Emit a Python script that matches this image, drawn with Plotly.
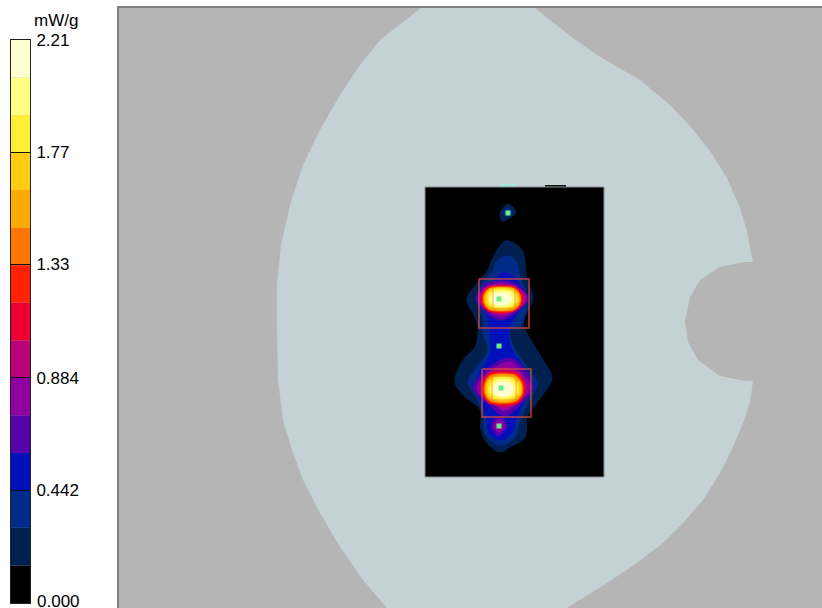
import plotly.graph_objects as go

# colour scale
scale_edges = [0.000, 0.147, 0.295, 0.442, 0.589, 0.737, 0.884, 1.031, 1.179, 1.326, 1.473, 1.621, 1.768, 1.915, 2.063, 2.21]
scale_colors = ["#000000", "#00204F", "#002B88", "#0011BB", "#5500AA", "#9000A0", "#BB0077", "#EE0033",
                "#FF2200", "#FF7700", "#FFAA00", "#FFCC11", "#FFEE33", "#FFFF80", "#FFFFD0"]
scale_ticks = [0.000, 0.442, 0.884, 1.33, 1.77, 2.21]
scale_labels = ["", "0.442", "0.884", "1.33", "1.77", "2.21"]
scale_floor_label = "0.000"

# outlines
phantom = [(421,8),(400,24),(380,40),(360,65),(340,95),(320,130),(303,165),(290,205),(281,245),(277,285),(277,330),(278,380),
           (283,420),(292,450),(303,480),(320,513),(340,547),(363,580),(387,608),(567,608),(580,600),(607,583),(637,563),(663,543),
           (683,523),(703,500),(720,473),(733,447),(743,423),(750,403),(753,381),(745,381),(720,376),(698,360),(688,342),(685,322),
           (690,297),(700,280),(720,267),(745,262),(753,262),(752,258),(747,231),(740,208),(727,178),(710,151),(690,126),(670,105),
           (640,80),(620,68),(597,55),(573,38),(550,20),(535,8)]
board = [(425,187),(604,187),(604,477),(425,477),(425,187)]
tab_light = [(500,184),(516,184),(516,187),(500,187),(500,184)]
tab_dark = [(545,185),(566,185),(566,187),(545,187),(545,185)]

level_1 = [(505,241),(492,260),(488,270),(477,283),(467,300),(475,317),(478,330),(475,347),(463,360),(455,382),(463,395),(480,410),
           (481,430),(487,443),(500,452),(510,447),(525,437),(527,417),(535,405),(552,378),(543,360),(532,342),(525,330),(523,323),
           (533,297),(527,280),(523,252),(517,245),(505,241),None,
           (508,204),(516,212),(510,218),(502,221),(500,213),(508,204)]
level_2 = [(508,256),(498,260),(492,273),(482,283),(478,303),(483,320),(483,333),(488,350),(477,367),(468,382),(475,395),(483,413),
           (485,433),(500,445),(515,437),(520,420),(528,403),(537,383),(527,367),(515,350),(510,330),(520,327),(527,297),(520,277),
           (515,260),(508,256),None,
           (508,208),(512,212),(508,217),(504,213),(508,208)]
level_3 = [(505,272),(495,280),(485,300),(488,320),(490,335),(491,350),(486,362),(478,375),(476,390),(483,405),(487,420),(489,433),
           (500,440),(511,434),(516,420),(522,405),(529,388),(526,372),(517,358),(510,345),(509,330),(514,318),(525,300),(516,280),(505,272)]
level_4 = [(501,281),(518,285),(528,299),(518,311),(501,320),(484,311),(476,299),(484,285),(501,281),None,
           (510,358),(525,370),(533,388),(522,403),(505,416),(488,404),(473,388),(486,370),(510,358),None,
           (499,416),(507,425),(499,436),(491,426),(499,416)]
level_5 = [(501,283),(516,287),(526,295),(526,302),(516,310),(501,317),(487,310),(479,302),(479,295),(487,287),(501,283),None,
           (510,362),(521,372),(530,385),(529,392),(519,401),(505,411),(491,401),(478,392),(478,385),(489,372),(510,362),None,
           (499,420),(504,426),(499,432),(494,426),(499,420)]
level_6 = [(501,285),(516,287),(524,295),(524,303),(516,309),(501,314),(487,309),(481,303),(481,295),(487,287),(501,285),None,
           (505,368),(518,372),(526,384),(526,393),(518,401),(505,408),(489,401),(481,393),(481,384),(489,372),(505,368)]
level_7 = [(501,286),(516,288),(522,295),(522,303),(516,310),(501,313),(487,310),(482,303),(482,295),(487,288),(501,286),None,
           (504,372),(518,374),(524,384),(524,394),(518,403),(504,405),(489,403),(483,394),(483,384),(489,374),(504,372)]
level_8 = [(501,287),(515,288),(521,295),(521,303),(515,310),(501,312),(488,310),(483,303),(483,295),(488,288),(501,287),None,
           (504,373),(517,375),(523,384),(523,394),(517,402),(504,404),(489,402),(484,394),(484,384),(489,375),(504,373)]
level_9 = [(501,287),(515,289),(520,295),(520,303),(515,309),(501,311),(489,309),(484,303),(484,295),(489,289),(501,287),None,
           (504,374),(516,376),(522,384),(522,394),(516,401),(504,403),(490,401),(485,394),(485,384),(490,376),(504,374)]
level_10 = [(501,288),(514,289),(519,295),(519,303),(514,309),(501,310),(489,309),(485,303),(485,295),(489,289),(501,288),None,
            (504,375),(516,377),(521,384),(521,394),(516,400),(504,402),(491,400),(486,394),(486,384),(491,377),(504,375)]
level_11 = [(501,288),(513,290),(518,295),(518,303),(513,307),(501,310),(490,307),(486,303),(486,295),(490,290),(501,288),None,
            (504,376),(514,378),(520,384),(520,394),(514,399),(504,401),(492,399),(487,394),(487,384),(492,378),(504,376)]
level_12 = [(501,289),(512,291),(516,295),(516,303),(512,306),(501,308),(491,306),(488,303),(488,295),(491,291),(501,289),None,
            (503,377),(513,379),(518,385),(518,393),(513,398),(503,400),(493,398),(489,393),(489,385),(493,379),(503,377)]
level_13 = [(501,291),(511,292),(514,296),(514,302),(511,305),(501,307),(493,305),(490,302),(490,296),(493,292),(501,291),None,
            (503,379),(512,381),(516,386),(516,392),(512,396),(503,398),(495,396),(491,392),(491,386),(495,381),(503,379)]
level_14 = [(501,293),(508,294),(511,297),(511,301),(508,304),(501,305),(495,304),(493,301),(493,297),(495,294),(501,293),None,
            (503,382),(509,383),(512,386),(512,392),(509,395),(503,396),(497,395),(494,392),(494,386),(497,383),(503,382)]
levels = [level_1, level_2, level_3, level_4, level_5, level_6, level_7, level_8, level_9, level_10, level_11, level_12, level_13, level_14]

probe_upper_outer = [(479,279),(529,279),(529,328),(479,328),(479,279)]
probe_upper_inner = [(493,286),(515,286),(515,309),(493,309),(493,286)]
probe_lower_outer = [(482,369),(531,369),(531,417),(482,417),(482,369)]
probe_lower_inner = [(492,376),(516,376),(516,400),(492,400),(492,376)]
peak_x = [508, 499, 499, 501, 499]
peak_y = [213, 299, 346, 388, 426]

def xs(p):
    return [q[0] if q else None for q in p]
def ys(p):
    return [q[1] if q else None for q in p]

W, H = 822, 608
fig = go.Figure()

def poly(p, fill, line=None, width=0, shape="linear"):
    fig.add_trace(go.Scatter(x=xs(p), y=ys(p), mode="lines", fill="toself", fillcolor=fill,
                             line=dict(color=line or fill, width=width, shape=shape, smoothing=1),
                             hoverinfo="skip", showlegend=False))

poly(phantom, "#C4D1D5")
poly(tab_light, "#A5E6DE")
poly(tab_dark, "#111111")
poly(board, "#000000", "#8A8F90", 1)
for i, lv in enumerate(levels):
    poly(lv, scale_colors[i + 1], scale_colors[i + 1], 1, "spline")

for r, col, w in [(probe_upper_outer, "rgba(205,70,70,0.9)", 1.5), (probe_lower_outer, "rgba(205,70,70,0.9)", 1.5),
                  (probe_upper_inner, "rgba(205,70,70,0.35)", 1.2), (probe_lower_inner, "rgba(205,70,70,0.35)", 1.2)]:
    fig.add_trace(go.Scatter(x=xs(r), y=ys(r), mode="lines", line=dict(color=col, width=w), hoverinfo="skip", showlegend=False))

fig.add_trace(go.Scatter(x=peak_x, y=peak_y, mode="markers",
                         marker=dict(symbol="square", size=5, color="#66F08A", line=dict(width=0)),
                         hoverinfo="skip", showlegend=False))

# colour bar as stacked bar of level widths
for i, c in enumerate(scale_colors):
    fig.add_trace(go.Bar(x=[0], y=[scale_edges[i + 1] - scale_edges[i]], base=[scale_edges[i]], width=[1],
                         marker=dict(color=c, line=dict(width=0)), xaxis="x2", yaxis="y2",
                         hoverinfo="skip", showlegend=False))

fig.update_layout(
    width=W, height=H, margin=dict(l=0, r=0, t=0, b=0), paper_bgcolor="white", plot_bgcolor="#B5B5B5",
    barmode="overlay", showlegend=False,
    xaxis=dict(domain=[119 / W, 1], range=[119, 822], showgrid=False, zeroline=False, showticklabels=False, ticks="",
               side="top", showline=True, linecolor="#808080", linewidth=2, automargin=False),
    yaxis=dict(domain=[0, 1 - 8 / H], range=[608, 8], showgrid=False, zeroline=False, showticklabels=False, ticks="",
               showline=True, linecolor="#808080", linewidth=2, automargin=False),
    xaxis2=dict(domain=[11 / W, 30 / W], range=[-0.5, 0.5], anchor="y2", showgrid=False, zeroline=False,
                showticklabels=False, ticks="", showline=True, mirror=True, linecolor="#222222", linewidth=1, automargin=False),
    yaxis2=dict(domain=[(H - 603) / H, (H - 40) / H], range=[0, 2.21], anchor="x2", side="right", automargin=False,
                tickmode="array", tickvals=scale_ticks, ticktext=scale_labels, ticks="inside", ticklen=19,
                tickcolor="#111111", tickwidth=1, layer="above traces", showgrid=False, zeroline=False,
                showline=True, mirror=True, linecolor="#222222", linewidth=1, ticklabelstandoff=2,
                tickfont=dict(family="Liberation Sans", size=17, color="#000000")),
    annotations=[
        dict(text="mW/g", xref="paper", yref="paper", x=56 / W, y=1 - 20 / H, showarrow=False,
             xanchor="center", yanchor="middle", font=dict(family="Liberation Sans", size=17, color="#000000")),
        dict(text=scale_floor_label, xref="paper", yref="paper", x=35 / W, y=(H - 601) / H, showarrow=False,
             xanchor="left", yanchor="middle", font=dict(family="Liberation Sans", size=17, color="#000000")),
        dict(text="(", xref="paper", yref="paper", x=108 / W, y=1 + 3 / H, showarrow=False,
             xanchor="center", yanchor="bottom", font=dict(family="Liberation Serif", size=18, color="#111111")),
        dict(text=")", xref="paper", yref="paper", x=226 / W, y=1 + 3 / H, showarrow=False,
             xanchor="center", yanchor="bottom", font=dict(family="Liberation Serif", size=18, color="#111111")),
        dict(text="g", xref="paper", yref="paper", x=389 / W, y=1 + 3 / H, showarrow=False,
             xanchor="center", yanchor="bottom", font=dict(family="Liberation Serif", size=18, color="#111111")),
    ],
)
fig.write_html("out.html", post_script="document.body.style.margin='0';", config={"displayModeBar": False})
